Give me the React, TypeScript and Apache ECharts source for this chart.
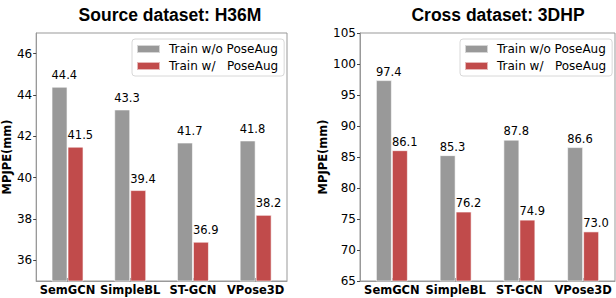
import React, { useEffect, useRef } from "react";
import * as echarts from "echarts";

const categories = ["SemGCN", "SimpleBL", "ST-GCN", "VPose3D"];
const seriesNames = ["Train w/o PoseAug", "Train w/   PoseAug"];
const h36mWithout = [44.4, 43.3, 41.7, 41.8];
const h36mWith = [41.5, 39.4, 36.9, 38.2];
const dhpWithout = [97.4, 85.3, 87.8, 86.6];
const dhpWith = [86.1, 76.2, 74.9, 73.0];
const h36mTicks = [36, 38, 40, 42, 44, 46];
const titles = ["Source dataset: H36M", "Cross dataset: 3DHP"];
const yName = "MPJPE(mm)";

const GRAY = "#999999";
const RED = "#C14B4B";
const FONT = "DejaVu Sans";

export default function App() {
  const ref = useRef<HTMLDivElement>(null);
  useEffect(() => {
    if (!ref.current) return;
    const chart = echarts.init(ref.current, null, { renderer: "svg" });
    const mkLabel = (dy: number) => ({
      show: true,
      position: [0, dy],
      align: "left",
      verticalAlign: "bottom",
      fontFamily: FONT,
      fontSize: 11.5,
      color: "#000",
      formatter: (p: any) => Number(p.value).toFixed(1),
    });
    const barBase = {
      type: "bar",
      barWidth: 16,
      barGap: "0%",
      itemStyle: { borderColor: "rgba(255,255,255,0.6)", borderWidth: 1 },
    };
    const xAxisBase = {
      type: "category",
      data: categories,
      axisLine: { show: true, lineStyle: { color: "#999", width: 1 } },
      axisTick: { show: true, inside: true, length: 3, alignWithLabel: true, lineStyle: { color: "#444" } },
      axisLabel: { interval: 0, hideOverlap: false, fontFamily: FONT, fontWeight: "bold", fontSize: 11.5, color: "#000", margin: 3 },
    };
    const yAxisBase = {
      type: "value",
      name: yName,
      nameLocation: "middle",
      nameTextStyle: { fontFamily: FONT, fontWeight: "bold", fontSize: 11.5, color: "#000" },
      splitLine: { show: false },
      axisLine: { show: true, lineStyle: { color: "#999", width: 1 } },
      axisTick: { show: true, length: 3, lineStyle: { color: "#444" } },
      axisLabel: { fontFamily: FONT, fontSize: 12, color: "#000", margin: 4 },
    };
    const legendBase = {
      orient: "vertical",
      top: 39,
      itemWidth: 23,
      itemHeight: 8,
      itemGap: 3,
      padding: [3, 6, 3, 4],
      borderColor: "#d8d8d8",
      borderWidth: 1,
      borderRadius: 3,
      backgroundColor: "rgba(255,255,255,0.8)",
      icon: "rect",
      data: seriesNames,
      textStyle: { fontFamily: FONT, fontSize: 12, color: "#000", lineHeight: 14, padding: [0, 0, 0, 4] },
    };
    const titleStyle = { fontFamily: "Liberation Sans", fontWeight: "bold", fontSize: 17.5, color: "#000" };
    chart.setOption({
      animation: false,
      backgroundColor: "#fff",
      title: [
        { text: titles[0], left: 165, textAlign: "center", top: 1, textStyle: titleStyle },
        { text: titles[1], left: 493, textAlign: "center", top: 1, textStyle: titleStyle },
      ],
      legend: [
        { ...legendBase, left: 132 },
        { ...legendBase, left: 460 },
      ],
      grid: [
        { left: 33, top: 33, width: 254, height: 248, show: true, borderColor: "#999", borderWidth: 1, backgroundColor: "transparent" },
        { left: 360, top: 33, width: 255, height: 248, show: true, borderColor: "#999", borderWidth: 1, backgroundColor: "transparent" },
      ],
      xAxis: [
        { ...xAxisBase, gridIndex: 0 },
        { ...xAxisBase, gridIndex: 1 },
      ],
      yAxis: [
        {
          ...yAxisBase,
          gridIndex: 0,
          min: 35,
          max: 47,
          nameGap: 22,
          axisTick: { ...yAxisBase.axisTick, customValues: h36mTicks },
          axisLabel: { ...yAxisBase.axisLabel, customValues: h36mTicks },
        },
        {
          ...yAxisBase,
          gridIndex: 1,
          min: 65,
          max: 105,
          interval: 5,
          nameGap: 29,
        },
      ],
      series: [
        { ...barBase, name: seriesNames[0], xAxisIndex: 0, yAxisIndex: 0, data: h36mWithout, itemStyle: { ...barBase.itemStyle, color: GRAY }, label: mkLabel(-5.5) },
        { ...barBase, name: seriesNames[1], xAxisIndex: 0, yAxisIndex: 0, data: h36mWith, itemStyle: { ...barBase.itemStyle, color: RED }, label: mkLabel(-5.5) },
        { ...barBase, name: seriesNames[0], xAxisIndex: 1, yAxisIndex: 1, data: dhpWithout, itemStyle: { ...barBase.itemStyle, color: GRAY }, label: mkLabel(-2.5) },
        { ...barBase, name: seriesNames[1], xAxisIndex: 1, yAxisIndex: 1, data: dhpWith, itemStyle: { ...barBase.itemStyle, color: RED }, label: mkLabel(-2.5) },
      ],
    });
    return () => chart.dispose();
  }, []);
  return <div ref={ref} style={{ position: "fixed", left: 0, top: 0, width: 616, height: 298 }} />;
}
